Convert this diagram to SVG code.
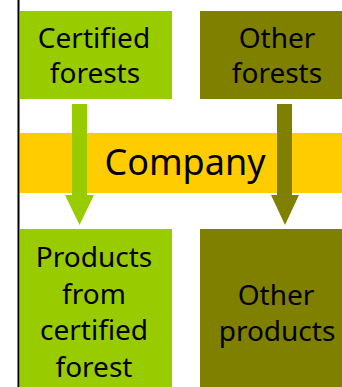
<svg xmlns="http://www.w3.org/2000/svg" width="342" height="387" viewBox="0 0 342 387">
  <style>
    .lbl { font-family: "Noto Sans", "Open Sans", sans-serif; font-size: 28px; fill: #000; text-anchor: middle; }
    .big { font-size: 36px; }
    .cert { fill: #99CC00; }
    .oth { fill: #808000; }
  </style>
  <rect x="0" y="0" width="342" height="387" fill="#fff"/>
  <line x1="18.5" y1="0" x2="18.5" y2="387" stroke="#000" stroke-width="2"/>
  <g id="company">
    <rect x="20" y="133" width="322" height="60" fill="#FFCC00"/>
    <text class="lbl big" x="185" y="175">Company</text>
  </g>
  <g id="connectors">
    <path class="cert" d="M72,104 H87 V195 H94 L79.5,225 L65,195 H72 Z"/>
    <path class="oth" d="M277,104 H292 V195 H299 L285,225 L271,195 H277 Z"/>
  </g>
  <g id="certified-forests">
    <rect class="cert" x="20" y="11" width="152" height="88"/>
    <text class="lbl" x="94" y="48">Certified</text>
    <text class="lbl" x="95" y="83">forests</text>
  </g>
  <g id="other-forests">
    <rect class="oth" x="200" y="11" width="142" height="88"/>
    <text class="lbl" x="277" y="48">Other</text>
    <text class="lbl" x="277" y="83">forests</text>
  </g>
  <g id="products-certified">
    <rect class="cert" x="20" y="229" width="152" height="158"/>
    <text class="lbl" x="94" y="267">Products</text>
    <text class="lbl" x="94" y="304">from</text>
    <text class="lbl" x="94" y="340">certified</text>
    <text class="lbl" x="94" y="377">forest</text>
  </g>
  <g id="other-products">
    <rect class="oth" x="200" y="229" width="142" height="158"/>
    <text class="lbl" x="276" y="305">Other</text>
    <text class="lbl" x="277" y="341">products</text>
  </g>
</svg>
